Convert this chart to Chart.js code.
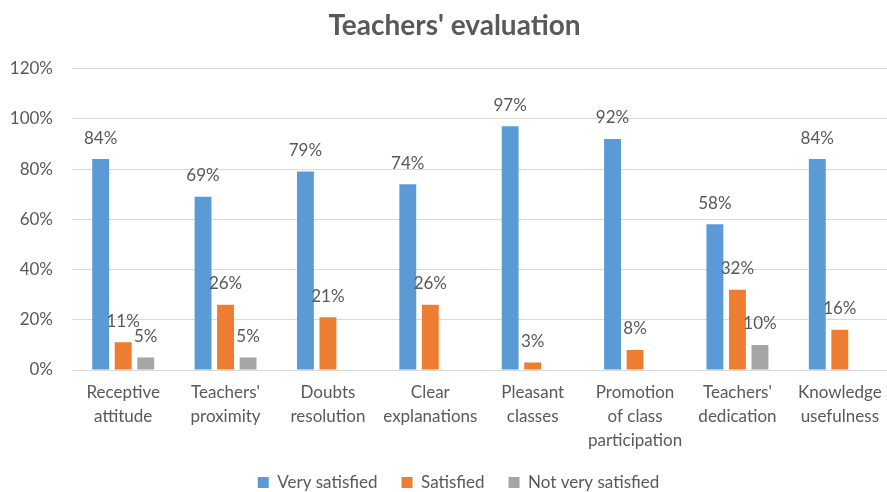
<!DOCTYPE html>
<html>
<head>
<meta charset="utf-8">
<script src="https://cdn.jsdelivr.net/npm/chart.js@4/dist/chart.umd.min.js"></script>
<style>
  html, body { margin: 0; padding: 0; background: #fff; overflow: hidden; }
  #wrap { width: 893px; height: 492px; }
</style>
</head>
<body>
<div id="wrap"><canvas id="myChart"></canvas></div>
<script>
// datos del gráfico
const categories = [
  ['Receptive', 'attitude'],
  ["Teachers'", 'proximity'],
  ['Doubts', 'resolution'],
  ['Clear', 'explanations'],
  ['Pleasant', 'classes'],
  ['Promotion', 'of class', 'participation'],
  ["Teachers'", 'dedication'],
  ['Knowledge', 'usefulness']
];
const verySatisfied = [84, 69, 79, 74, 97, 92, 58, 84];
const satisfied = [11, 26, 21, 26, 3, 8, 32, 16];
const notVerySatisfied = [5, 5, null, null, null, null, 10, null];
const yTicks = [0, 20, 40, 60, 80, 100, 120];

const textColor = '#595959';
const fontFamily = 'Lato, "Open Sans", sans-serif';

// etiquetas encima de cada barra
const barLabels = {
  id: 'barLabels',
  afterLayout(chart) {
    // el título y la leyenda van un poco a la derecha, como en el original
    chart.titleBlock.left += 9;
    chart.titleBlock.right += 9;
    chart.legend.left += 13;
    chart.legend.right += 13;
  },
  afterDatasetsDraw(chart) {
    const ctx = chart.ctx;
    ctx.save();
    ctx.font = '17px ' + fontFamily;
    ctx.fillStyle = textColor;
    ctx.textAlign = 'center';
    ctx.textBaseline = 'middle';
    chart.data.datasets.forEach((ds, i) => {
      const meta = chart.getDatasetMeta(i);
      meta.data.forEach((bar, j) => {
        const v = ds.data[j];
        if (v === null || v === undefined) return;
        ctx.fillText(v + '%', bar.x, bar.y - 21);
      });
    });
    ctx.restore();
  }
};

new Chart(document.getElementById('myChart').getContext('2d'), {
  type: 'bar',
  data: {
    labels: categories,
    datasets: [
      { label: 'Very satisfied', data: verySatisfied, backgroundColor: '#5B9BD5' },
      { label: 'Satisfied', data: satisfied, backgroundColor: '#ED7D31' },
      { label: 'Not very satisfied', data: notVerySatisfied, backgroundColor: '#A5A5A5' }
    ]
  },
  options: {
    responsive: true,
    maintainAspectRatio: false,
    animation: false,
    categoryPercentage: 0.66,
    barPercentage: 0.75,
    layout: { padding: { left: 0, right: 2, top: 4, bottom: -9 } },
    plugins: {
      title: {
        display: true,
        text: "Teachers' evaluation",
        color: textColor,
        font: { family: fontFamily, size: 28, weight: 'bold' },
        padding: { top: 5, bottom: 26 }
      },
      legend: {
        position: 'bottom',
        labels: {
          color: textColor,
          font: { family: fontFamily, size: 17 },
          boxWidth: 11,
          boxHeight: 11,
          padding: 24
        }
      },
      tooltip: { enabled: false }
    },
    scales: {
      x: {
        grid: { display: false, drawTicks: false },
        border: { display: false },
        afterFit: (axis) => { axis.height = 80; },
        ticks: {
          color: textColor,
          font: { family: fontFamily, size: 17, lineHeight: 1.41 },
          maxRotation: 0,
          autoSkip: false,
          padding: 11
        }
      },
      y: {
        min: 0,
        max: 120,
        afterBuildTicks: (axis) => { axis.ticks = yTicks.map(v => ({ value: v })); },
        afterFit: (axis) => { axis.width = 72; },
        grid: { color: '#D9D9D9', lineWidth: 1, drawTicks: false },
        border: { display: false },
        ticks: {
          color: textColor,
          font: { family: fontFamily, size: 17 },
          padding: 19,
          callback: (v) => v + '%'
        }
      }
    }
  },
  plugins: [barLabels]
});
</script>
</body>
</html>
